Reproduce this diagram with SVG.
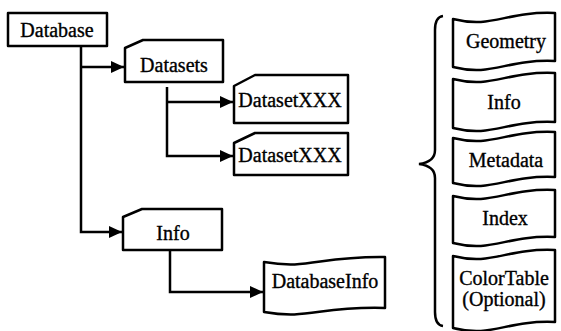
<svg xmlns="http://www.w3.org/2000/svg" width="561" height="331" viewBox="0 0 561 331">
<style>
.box{fill:#fff;stroke:#000;stroke-width:2.5;stroke-linejoin:round}
.ln{fill:none;stroke:#000;stroke-width:2.5}
.t{font-family:"Liberation Serif","Times New Roman",serif;font-size:20px;fill:#000;stroke:#000;stroke-width:0.35;text-anchor:middle}
</style>
<defs>
<marker id="ah" markerUnits="userSpaceOnUse" markerWidth="14" markerHeight="12" refX="13" refY="6" orient="auto">
<path d="M0,0 L13,6 L0,12 Z" fill="#000"/>
</marker>
</defs>
<g id="connectors">
<path class="ln" d="M81,46 V232 H122" marker-end="url(#ah)"/>
<path class="ln" d="M81,67 H124" marker-end="url(#ah)"/>
<path class="ln" d="M167,87 V156 H233" marker-end="url(#ah)"/>
<path class="ln" d="M167,102 H233" marker-end="url(#ah)"/>
<path class="ln" d="M170,250 V292 H263" marker-end="url(#ah)"/>
<path class="ln" d="M443,16 Q435,17 435,30 L435,150 Q435,162 419,164 Q435,166 435,178 L435,312 Q435,325 443,326"/>
</g>
<g id="database">
<rect class="box" x="8" y="13" width="99" height="33"/>
<text class="t" x="57" y="37">Database</text>
</g>
<g id="datasets">
<path class="box" d="M125,48 L143,40 H223 V82 H125 Z"/>
<text class="t" x="174" y="72">Datasets</text>
</g>
<g id="datasetxxx1">
<path class="box" d="M234,86 L255,75 H348 V123 H234 Z"/>
<text class="t" x="290" y="107">DatasetXXX</text>
</g>
<g id="datasetxxx2">
<path class="box" d="M234,143 L255,133 H348 V175 H234 Z"/>
<text class="t" x="290" y="162">DatasetXXX</text>
</g>
<g id="info">
<path class="box" d="M123,217 L142,209 H222 V250 H123 Z"/>
<text class="t" x="173" y="240">Info</text>
</g>
<g id="databaseinfo">
<path class="box" d="M264,262 C310,270 318,256 385,257 L385,308 C318,306 310,320 264,312 Z"/>
<text class="t" x="325" y="288">DatabaseInfo</text>
</g>
<g id="geometry">
<path class="box" d="M453,19 C493,29 505,11 555,13 L555,61 C505,59 493,77 453,67 Z"/>
<text class="t" x="506" y="48">Geometry</text>
</g>
<g id="info2">
<path class="box" d="M453,79 C493,89 505,71 555,73 L555,122 C505,120 493,138 453,128 Z"/>
<text class="t" x="504" y="109">Info</text>
</g>
<g id="metadata">
<path class="box" d="M453,138 C493,148 505,130 555,132 L555,177 C505,175 493,193 453,183 Z"/>
<text class="t" x="506" y="167">Metadata</text>
</g>
<g id="index">
<path class="box" d="M453,196 C493,206 505,188 555,190 L555,237 C505,235 493,253 453,243 Z"/>
<text class="t" x="505" y="225">Index</text>
</g>
<g id="colortable">
<path class="box" d="M453,256 C493,266 505,248 555,250 L555,322 C505,320 493,338 453,328 Z"/>
<text class="t" x="504" y="285">ColorTable</text>
<text class="t" x="504" y="306">(Optional)</text>
</g>
</svg>
